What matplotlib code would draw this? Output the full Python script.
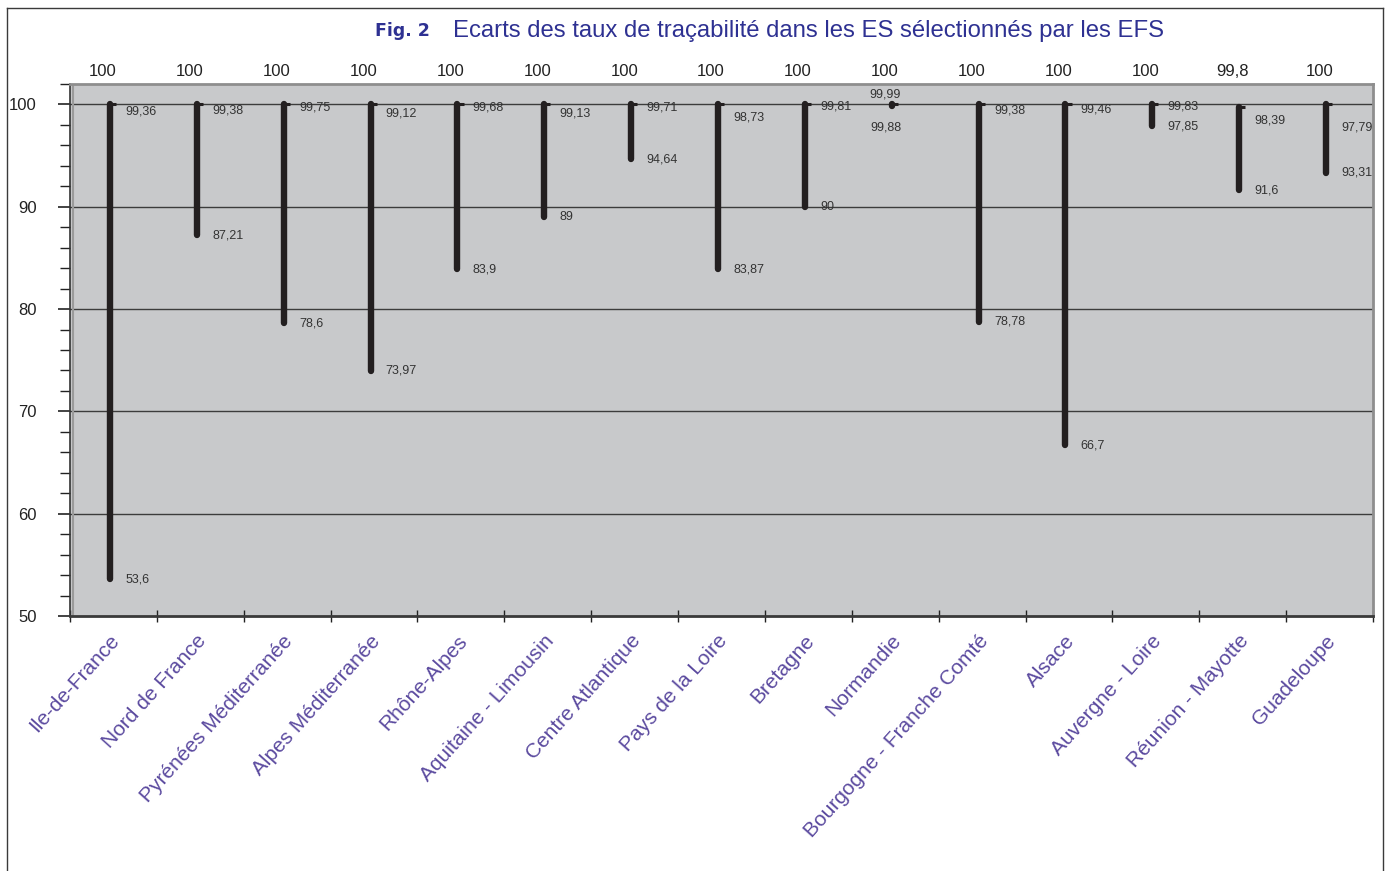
import matplotlib
matplotlib.use("Agg")
import matplotlib.pyplot as plt
from matplotlib.lines import Line2D
from matplotlib.ticker import MultipleLocator, FixedLocator

plt.rcParams['font.family'] = ['Liberation Sans', 'DejaVu Sans']

# Regional blood establishments (EFS) and traceability rates (%)
regions = ["Ile-de-France", "Nord de France", "Pyrénées Méditerranée",
           "Alpes Méditerranée", "Rhône-Alpes", "Aquitaine - Limousin",
           "Centre Atlantique", "Pays de la Loire", "Bretagne", "Normandie",
           "Bourgogne - Franche Comté", "Alsace", "Auvergne - Loire",
           "Réunion - Mayotte", "Guadeloupe"]
high = [100, 100, 100, 100, 100, 100, 100, 100, 100, 100, 100, 100, 100, 99.8, 100]
close = [99.36, 99.38, 99.75, 99.12, 99.68, 99.13, 99.71, 98.73, 99.81, 99.99,
         99.38, 99.46, 99.83, 98.39, 97.79]
low = [53.6, 87.21, 78.6, 73.97, 83.9, 89, 94.64, 83.87, 90, 99.88,
       78.78, 66.7, 97.85, 91.6, 93.31]
y_ticks = [50, 60, 70, 80, 90, 100]

W, H = 1392, 871
fig = plt.figure(figsize=(W / 100, H / 100), dpi=100)
fig.patch.set_facecolor("white")

# outer frame (open at the bottom)
frame_kw = dict(color="#3a3a3a", lw=1.0, transform=fig.transFigure)
fig.add_artist(Line2D([7 / W, 7 / W], [0, 1 - 8 / H], **frame_kw))
fig.add_artist(Line2D([7 / W, 1383 / W], [1 - 8 / H, 1 - 8 / H], **frame_kw))
fig.add_artist(Line2D([1383 / W, 1383 / W], [0, 1 - 8 / H], **frame_kw))

ax = fig.add_axes([70 / W, 1 - 616 / H, (1373 - 70) / W, (616 - 84) / H])
ax.set_facecolor("#c8c9cb")
ax.set_xlim(0, len(regions))
ax.set_ylim(50, 102)

for y in y_ticks[1:]:
    ax.axhline(y, color="#3c3c3c", lw=1.0, zorder=1)

# inner grey edge along the value axis
ax.axvline(0.035, color="#9a9a9a", lw=1.5, zorder=1)

def fmt(v):
    return f"{v:g}".replace(".", ",")

bar_color = "#231f20"
label_color = "#333333"
xs = [i + 0.46 for i in range(len(regions))]
for i, (x, h, c, l) in enumerate(zip(xs, high, close, low)):
    ax.plot([x, x], [l, h], color=bar_color, lw=4.6, solid_capstyle="round", zorder=3)
    ax.plot([x, x + 0.07], [h, h], color=bar_color, lw=2.2, solid_capstyle="butt", zorder=3)
    # value above the plot
    ax.annotate(fmt(h), xy=(x, 102), xycoords="data", xytext=(-5, 9),
                textcoords="offset points", ha="center", va="center",
                fontsize=12, color="#222222", annotation_clip=False)
    if regions[i] == "Normandie":
        ax.annotate(fmt(c), xy=(x, c), xytext=(-4.5, 7), textcoords="offset points",
                    ha="center", va="center", fontsize=9, color=label_color)
        ax.annotate(fmt(l), xy=(x, l), xytext=(-4.5, -16), textcoords="offset points",
                    ha="center", va="center", fontsize=9, color=label_color)
    else:
        ax.annotate(fmt(c), xy=(x, c), xytext=(11, 0), textcoords="offset points",
                    ha="left", va="center", fontsize=9, color=label_color)
        ax.annotate(fmt(l), xy=(x, l), xytext=(11, 0), textcoords="offset points",
                    ha="left", va="center", fontsize=9, color=label_color)

# y axis
ax.yaxis.set_major_locator(FixedLocator(y_ticks))
ax.yaxis.set_minor_locator(MultipleLocator(2))
ax.set_yticklabels([str(v) for v in y_ticks])
ax.tick_params(axis="y", which="major", direction="out", length=9, width=1.2,
               pad=15, labelsize=12, colors="#222222")
ax.tick_params(axis="y", which="minor", direction="out", length=7, width=1.0,
               colors="#222222")

# x axis: tick marks on category boundaries, labels on category centres
ax.xaxis.set_major_locator(FixedLocator(list(range(len(regions) + 1))))
ax.xaxis.set_minor_locator(FixedLocator([i + 0.45 for i in range(len(regions))]))
ax.set_xticklabels([""] * (len(regions) + 1))
ax.set_xticklabels(regions, minor=True, rotation=48, ha="right",
                   rotation_mode="anchor", fontsize=15, color="#5b4a9f")
ax.tick_params(axis="x", which="major", direction="inout", length=9, width=1.0,
               colors="#222222")
ax.tick_params(axis="x", which="minor", length=0, pad=11)

for side in ("top", "right"):
    ax.spines[side].set_color("#8e8e8e")
    ax.spines[side].set_linewidth(2.0)
ax.spines["left"].set_color("#333333")
ax.spines["left"].set_linewidth(1.2)
ax.spines["bottom"].set_color("#3a3a3a")
ax.spines["bottom"].set_linewidth(2.0)

# title
title_color = "#2e3192"
fig.text(430 / W, 1 - 31 / H, "Fig. 2", ha="right", va="center",
         fontsize=12.5, fontweight="bold", color=title_color, family="DejaVu Sans")
fig.text(453 / W, 1 - 31 / H,
         "Ecarts des taux de traçabilité dans les ES sélectionnés par les EFS",
         ha="left", va="center", fontsize=17.2, color=title_color)

fig.savefig("out.png", dpi=100, facecolor="white")
